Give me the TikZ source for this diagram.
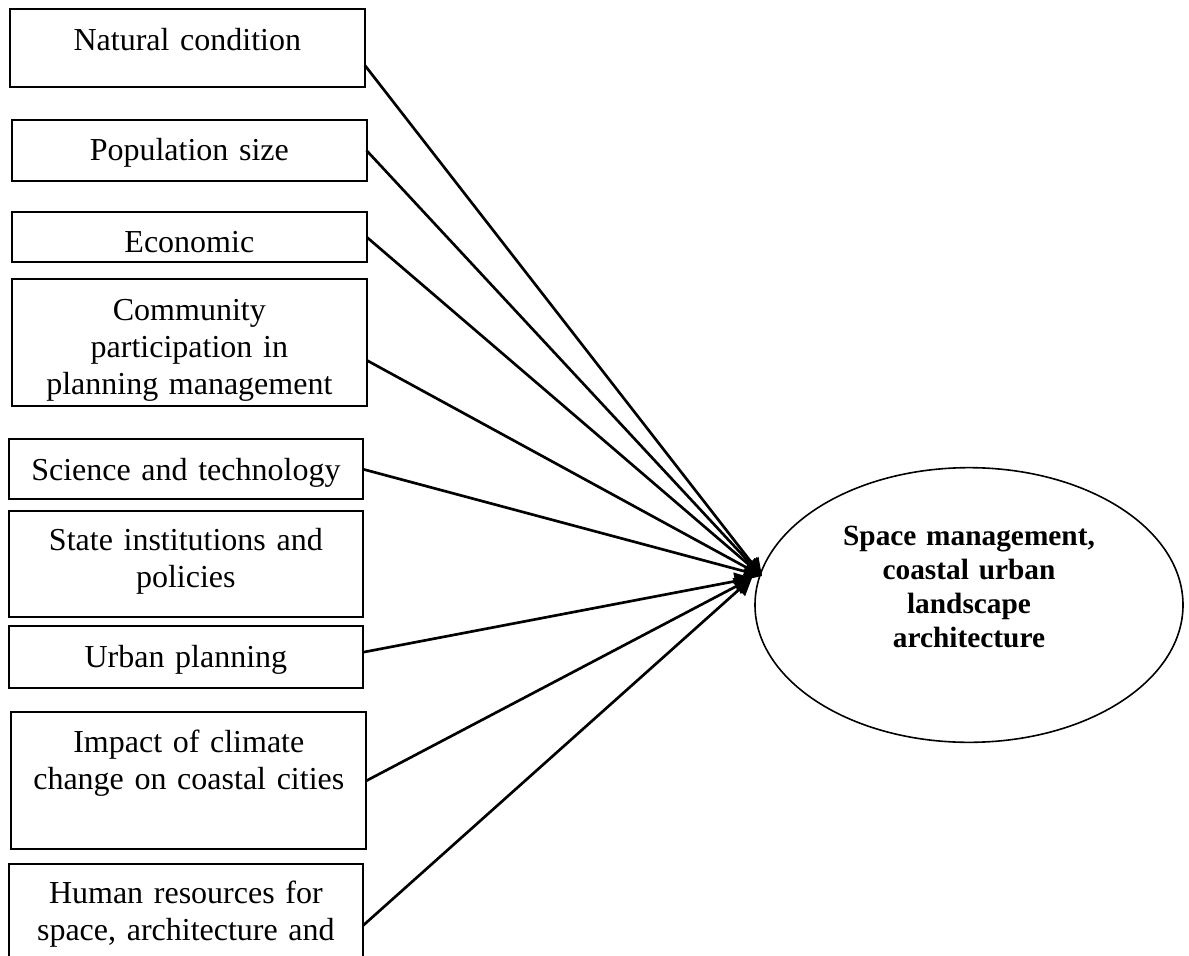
\documentclass[tikz,border=0pt]{standalone}
\usepackage{fontspec}
\setmainfont{Liberation Serif}
\usepackage{xcolor}
\definecolor{cInk}{HTML}{000000}
\usepackage{tikz}
\usetikzlibrary{positioning,arrows.meta,shapes.geometric}
\tikzset{
  node-factor/.style={draw=cInk,line width=0.75pt,rectangle,align=center,
    minimum width=133pt,text width=124pt,inner xsep=0pt,inner ysep=0pt,
    outer sep=0pt,font=\fontsize{12pt}{13.9pt}\selectfont},
  % ellipse target, text pushed up a bit via text depth
  node-goal/.style={draw=cInk,line width=0.6pt,ellipse,align=center,
    minimum width=160.5pt,minimum height=103pt,inner sep=0pt,text width=100pt,
    font=\bfseries\fontsize{11pt}{12.8pt}\selectfont},
  arrow/.style={-{Triangle[length=6.5pt,width=6.5pt]},line width=1pt,draw=cInk},
}
\begin{document}
\begin{tikzpicture}[x=0.375pt,y=-0.375pt]
  \useasboundingbox (0,0) rectangle (1189,956);
  \node[node-factor,anchor=north west,text height=15.75pt,text depth=13.5pt] (f1) at (10,9) {Natural condition};
  \node[node-factor,below=12.4pt of f1,xshift=0.75pt,text height=15pt,text depth=7.9pt] (f2) {Population size};
  \node[node-factor,below=11.6pt of f2,text height=15pt,text depth=3.75pt] (f3) {Economic};
  \node[node-factor,below=6.4pt of f3,text height=15.4pt,text depth=32.25pt] (f4) {Community\\participation in\\planning management};
  \node[node-factor,below=12.4pt of f4,xshift=-1.3pt,text height=15.4pt,text depth=7.1pt] (f5) {Science and technology};
  \node[node-factor,below=4.5pt of f5,text height=14.6pt,text depth=25.1pt] (f6) {State institutions and\\policies};
  \node[node-factor,below=3.4pt of f6,text height=15.4pt,text depth=7.9pt] (f7) {Urban planning};
  \node[node-factor,below=9pt of f7,xshift=1.1pt,text height=15pt,text depth=36.4pt] (f8) {Impact of climate\\change on coastal cities};
  \node[node-factor,below=5.6pt of f8,xshift=-1.1pt,text height=14.6pt,text depth=40pt] (f9) {Human resources for\\space, architecture and};
  \node[node-goal,text height=8pt,text depth=53pt] (goal) at (969,605) {Space management,\\coastal urban\\landscape\\architecture};
  \coordinate (tipA) at (762,576);
  \coordinate (tipB) at (752,578);
  \draw[arrow] ([yshift=-6.4pt]f1.east) -- (tipA);
  \draw[arrow] (f2.east) -- (tipA);
  \draw[arrow] (f3.east) -- (tipA);
  \draw[arrow] ([yshift=-6.6pt]f4.east) -- (tipA);
  \draw[arrow] (f5.east) -- (tipA);
  \draw[arrow] ([yshift=1.9pt]f7.east) -- (tipB);
  \draw[arrow] (f8.east) -- (tipB);
  \draw[arrow] ([yshift=-22.9pt]f9.north east) -- (tipB);
\end{tikzpicture}
\end{document}
